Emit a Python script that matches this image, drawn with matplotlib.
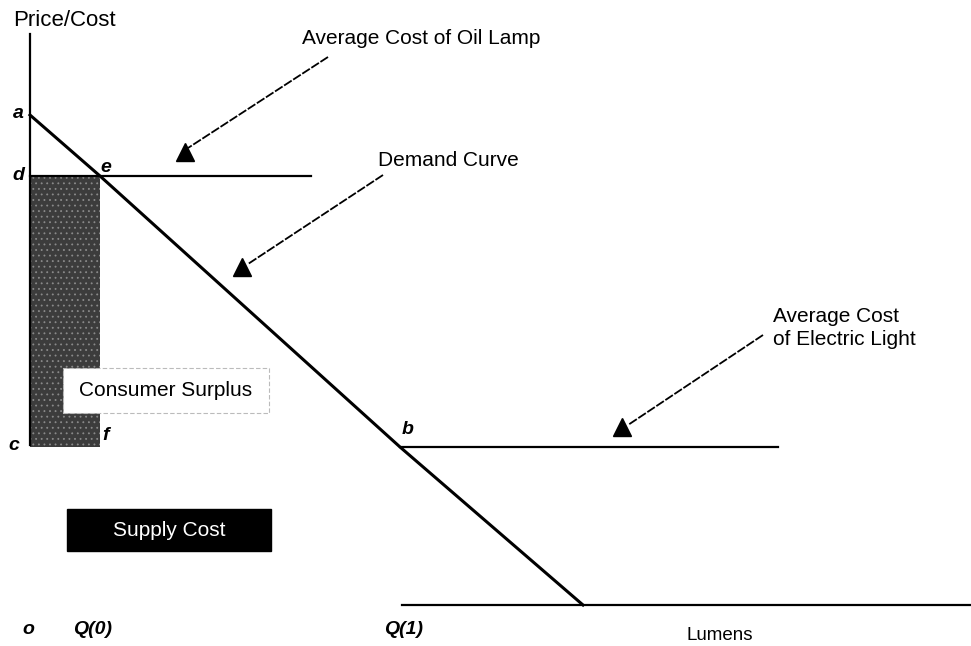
import matplotlib
matplotlib.use("Agg")
import matplotlib.pyplot as plt
from matplotlib.patches import Rectangle

plt.rcParams['font.family'] = ['Liberation Sans', 'DejaVu Sans']
plt.rcParams['hatch.linewidth'] = 0.6

# ---- data (quantity of lumens, price/cost) ----
demand_q = [0, 70, 370, 553]        # a, e, b, end of demand curve
demand_p = [490, 429, 158, 0]
oil_cost = 429                      # average cost of oil lamp (d-e level)
oil_q_end = 281
elec_cost = 158                     # average cost of electric light (c / b level)
elec_q = [370, 748]
q0 = 70                             # Q(0)
axis_p = [160, 571]                 # extent of price axis
base_q = [372, 941]                 # zero-price line

fig = plt.figure(figsize=(9.71, 6.46), dpi=100)
ax = fig.add_axes([0, 0, 1, 1])
ax.set_xlim(-30, 941)
ax.set_ylim(-41, 605)
ax.axis('off')

# shaded area (q 0..Q0, price c..d)
ax.add_patch(Rectangle((0, elec_cost), q0, oil_cost - elec_cost,
                       facecolor='#3c3c3c', edgecolor='#8a8a8a', hatch='...',
                       linewidth=0, zorder=1))

# price axis
ax.plot([0, 0], axis_p, color='black', lw=1.6, zorder=3)

# cost lines
ax.plot([0, oil_q_end], [oil_cost, oil_cost], color='black', lw=1.6, zorder=3)
ax.plot(elec_q, [elec_cost, elec_cost], color='black', lw=1.6, zorder=3)
ax.plot(base_q, [0, 0], color='black', lw=1.6, zorder=3)

# demand curve
ax.plot(demand_q, demand_p, color='black', lw=2.2, zorder=4)

# boxes
ax.add_patch(Rectangle((33, 192), 206, 45, facecolor='white', edgecolor='#bbbbbb',
                       lw=0.8, linestyle=(0, (4, 2)), zorder=5))
ax.text(136, 215, 'Consumer Surplus', ha='center', va='center', fontsize=15, zorder=6)
ax.add_patch(Rectangle((37, 54), 204, 42, facecolor='black', edgecolor='black', zorder=5))
ax.text(139, 75, 'Supply Cost', ha='center', va='center', fontsize=15, color='white', zorder=6)

# letters
lab = dict(fontsize=14, fontweight='bold', fontstyle='italic', ha='center', va='center')
ax.text(-12, 492, 'a', **lab)
ax.text(-12, 429, 'd', **lab)
ax.text(76, 437, 'e', **lab)
ax.text(-16, 160, 'c', **lab)
ax.text(76, 169, 'f', **lab)
ax.text(378, 175, 'b', **lab)
ax.text(-2, -25, 'o', **lab)
ax.text(63, -25, 'Q(0)', **lab)
ax.text(374, -25, 'Q(1)', **lab)

ax.text(690, -30, 'Lumens', ha='center', va='center', fontsize=13.5)
ax.text(-17, 585, 'Price/Cost', ha='left', va='center', fontsize=16)

# annotations
ax.text(272, 567, 'Average Cost of Oil Lamp', ha='left', va='center', fontsize=15)
ax.text(348, 445, 'Demand Curve', ha='left', va='center', fontsize=15)
ax.text(743, 277, 'Average Cost\nof Electric Light', ha='left', va='center', fontsize=15,
        linespacing=1.25)

arrows = [((298, 548), (158, 457), (155, 453)),
          ((353, 430), (218, 341), (212, 338)),
          ((733, 270), (598, 180), (592, 178))]
for tail, head, tri in arrows:
    ax.plot([tail[0], head[0]], [tail[1], head[1]], color='black', lw=1.3,
            linestyle=(0, (5, 1)), zorder=3)
    ax.plot([tri[0]], [tri[1]], marker='^', color='black', markersize=13, zorder=3)

fig.savefig('out.png', dpi=100)
